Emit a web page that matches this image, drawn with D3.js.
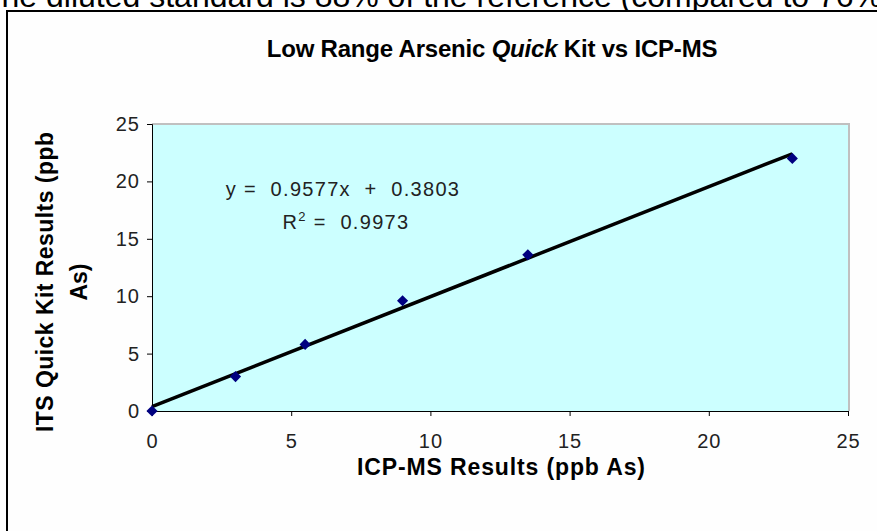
<!DOCTYPE html>
<html>
<head>
<meta charset="utf-8">
<script src="https://cdn.jsdelivr.net/npm/d3@7"></script>
<style>
body{margin:0;background:#fff;overflow:hidden}
svg{display:block;font-family:"Liberation Sans",Arial,sans-serif}
</style>
</head>
<body>
<svg></svg>
<script>
// data
var icpms = [0, 3, 5.5, 9, 13.5, 23]
var quickKit = [0, 3, 5.8, 9.6, 13.6, 22]
var xTicks = [0, 5, 10, 15, 20, 25]
var yTicks = [0, 5, 10, 15, 20, 25]
var slope = 0.9577
var intercept = 0.3803
var rSquared = 0.9973

var width = 877
var height = 531
var padLeft = 152, padRight = 848, padTop = 124, padBottom = 411

var svg = d3.select("svg")
    .attr("width", width)
    .attr("height", height)

// cut-off line of the surrounding document
svg.append("text")
    .attr("x", -18)
    .attr("y", 6.5)
    .style("font-size", "32px")
    .attr("fill", "#000")
    .text("The diluted standard is 88% of the reference (compared to 76%")

// chart frame
svg.append("rect")
    .attr("x", 7)
    .attr("y", 11)
    .attr("width", 890)
    .attr("height", 540)
    .attr("fill", "#fefefe")
    .attr("stroke", "#000")
    .attr("stroke-width", 2)

var xScale = d3.scaleLinear().domain([0, 25]).range([padLeft, padRight])
var yScale = d3.scaleLinear().domain([0, 25]).range([padBottom, padTop])

// plot area
svg.append("rect")
    .attr("x", padLeft)
    .attr("y", padTop)
    .attr("width", padRight - padLeft)
    .attr("height", padBottom - padTop)
    .attr("fill", "#ccffff")
svg.append("path")
    .attr("d", "M" + padLeft + "," + padTop + "H" + (padRight + 1) + "V" + padBottom)
    .attr("fill", "none")
    .attr("stroke", "#c0c0c0")
    .attr("stroke-width", 2)

var xAxis = d3.axisBottom(xScale).tickValues(xTicks).tickSize(5).tickPadding(18)
var yAxis = d3.axisLeft(yScale).tickValues(yTicks).tickSize(5).tickPadding(7)

svg.append("g")
    .attr("transform", "translate(0," + padBottom + ")")
    .call(xAxis)
svg.append("g")
    .attr("transform", "translate(" + padLeft + ",0)")
    .call(yAxis)

svg.selectAll(".tick text")
    .style("font-size", "20px")
    .style("letter-spacing", "1px")
    .attr("fill", "#222")
    .style("font-family", "'Liberation Sans', Arial, sans-serif")
svg.selectAll(".domain, .tick line").attr("stroke", "#000")

// trendline
var x0 = d3.min(icpms), x1 = d3.max(icpms)
svg.append("line")
    .attr("x1", xScale(x0))
    .attr("y1", yScale(slope * x0 + intercept))
    .attr("x2", xScale(x1))
    .attr("y2", yScale(slope * x1 + intercept))
    .attr("stroke", "#000")
    .attr("stroke-width", 3.5)

// markers (square turned 45 degrees)
var points = icpms.map(function(d, i){ return {x: d, y: quickKit[i]} })
svg.selectAll(".pt")
    .data(points)
    .enter()
    .append("path")
    .attr("class", "pt")
    .attr("d", d3.symbol().type(d3.symbolSquare).size(62))
    .attr("transform", d => "translate(" + xScale(d.x) + "," + yScale(d.y) + ") rotate(45)")
    .attr("fill", "#000080")

// equation labels
svg.append("text")
    .attr("x", 343)
    .attr("y", 196)
    .attr("text-anchor", "middle")
    .style("font-size", "20px")
    .style("letter-spacing", "1.3px")
    .style("white-space", "pre")
    .attr("fill", "#222")
    .text("y =  " + slope + "x  +  " + intercept)
var r2 = svg.append("text")
    .attr("x", 346)
    .attr("y", 229)
    .attr("text-anchor", "middle")
    .style("font-size", "20px")
    .style("letter-spacing", "1.3px")
    .style("white-space", "pre")
    .attr("fill", "#222")
r2.append("tspan").text("R")
r2.append("tspan").attr("dy", -8).style("font-size", "13px").text("2")
r2.append("tspan").attr("dy", 8).text(" =  " + rSquared)

// title
var title = svg.append("text")
    .attr("x", 492)
    .attr("y", 57)
    .attr("text-anchor", "middle")
    .style("font-size", "24px")
    .style("font-weight", "bold")
    .style("letter-spacing", "-0.2px")
    .attr("fill", "#000")
title.append("tspan").text("Low Range Arsenic ")
title.append("tspan").style("font-style", "italic").text("Quick")
title.append("tspan").text(" Kit vs ICP-MS")

// axis titles
svg.append("text")
    .attr("x", 501)
    .attr("y", 475)
    .attr("text-anchor", "middle")
    .style("font-size", "23px")
    .style("font-weight", "bold")
    .attr("textLength", 288)
    .text("ICP-MS Results (ppb As)")

var yt = svg.append("text")
    .attr("transform", "translate(53,282) rotate(-90)")
    .attr("text-anchor", "middle")
    .style("font-size", "23px")
    .style("font-weight", "bold")
yt.append("tspan").attr("x", 0).attr("dy", 0).attr("textLength", 300).text("ITS Quick Kit Results (ppb")
yt.append("tspan").attr("x", 0).attr("dy", 34).text("As)")
</script>
</body>
</html>
